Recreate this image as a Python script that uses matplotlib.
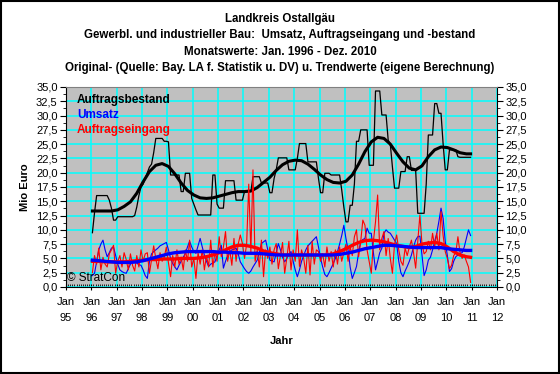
import numpy as np
import matplotlib
matplotlib.use('Agg')
import matplotlib.pyplot as plt
from matplotlib.ticker import MultipleLocator, FuncFormatter
from matplotlib.patches import Rectangle

plt.rcParams['font.family'] = ['Liberation Sans', 'DejaVu Sans']

# Monthly values Jan 1996 - Dec 2010 (Mio Euro)
auftragsbestand = [
    9.5, 13, 16, 16, 16, 16, 16, 16, 15.2, 13.8, 11.7, 11.7,
    12.3, 12.3, 12.3, 12.3, 12.3, 12.3, 12.3, 12.3, 12.5, 14, 16, 17.5,
    18, 19, 20, 21, 21.5, 23.5, 26, 26, 26, 26, 25.5, 25.5,
    25.4, 19.6, 19.6, 19.6, 19.6, 19.6, 16.7, 16.7, 19.9, 19.9, 19.9, 15.5,
    14.5, 13.5, 12.6, 12.6, 12.6, 12.6, 12.6, 12.6, 12.6, 19.6, 19.6, 14.5,
    13.8, 13.8, 13.8, 18.6, 18.6, 18.6, 18.6, 18.6, 15.2, 15.2, 15.2, 15.2,
    16.7, 16.7, 16.7, 16.7, 19.3, 19.3, 19.3, 19.3, 18.2, 18.2, 18.2, 18.2,
    16.5, 16.5, 19, 20.5, 22.6, 22.6, 22.6, 22.6, 22.6, 20.5, 20.5, 20.5,
    20.5, 22.5, 25.1, 25.1, 25.1, 25.1, 21.9, 21.9, 21.9, 21.9, 21.9, 19,
    16.5, 16.5, 19.9, 19.9, 19.9, 19.6, 19.6, 19.6, 19.6, 19.6, 17, 14,
    11.4, 11.4, 14.3, 14.3, 18, 25.5, 25.5, 27.5, 27.5, 27.5, 27.5, 21.3,
    21.3, 21.3, 34.3, 34.3, 34.3, 30.1, 30.1, 30.1, 25.7, 25, 21, 17.3,
    17.3, 17.3, 20.2, 20.2, 20.2, 22.8, 22.8, 20.4, 20.4, 20.4, 12.9, 12.9,
    12.9, 12.9, 18, 26.6, 26.6, 26.6, 32.1, 32.1, 30.4, 30.4, 25, 20.5,
    20.5, 24, 24, 24, 24, 22.8, 22.7, 22.7, 22.7, 22.7, 22.7, 22.7,
]
umsatz = [
    2.0, 2.4, 4.5, 6.5, 7.5, 8.2, 6.5, 5.3, 6.0, 6.8, 7.0, 5.5,
    4.0, 3.0, 2.7, 2.5, 2.4, 3.2, 4.0, 4.4, 4.6, 4.2, 3.9, 3.8,
    3.0, 2.0, 1.5, 4.5, 5.8, 6.2, 6.5, 6.8, 7.2, 7.4, 7.6, 7.8,
    6.5, 5.0, 4.1, 3.5, 3.0, 3.8, 4.5, 5.2, 5.9, 7.0, 8.0, 7.0,
    6.2, 5.9, 7.2, 8.5, 7.0, 5.6, 4.5, 3.6, 4.0, 4.2, 4.4, 5.5,
    6.5, 7.3, 3.3, 4.5, 5.5, 6.2, 6.5, 6.6, 6.8, 5.8, 4.4, 3.8,
    3.2, 2.7, 2.4, 2.8, 3.5, 4.1, 4.7, 6.0, 7.6, 7.9, 8.2, 6.5,
    4.7, 4.5, 4.4, 6.0, 7.6, 6.5, 5.2, 4.4, 5.0, 5.8, 6.2, 4.5,
    3.0, 1.8, 3.0, 4.5, 5.5, 6.5, 7.2, 7.6, 8.0, 8.4, 8.8, 7.0,
    5.0, 3.5, 2.2, 1.8, 2.5, 3.3, 4.1, 5.0, 6.2, 7.5, 9.0, 10.8,
    8.5, 6.5, 3.5, 1.5, 2.5, 3.6, 6.0, 8.0, 8.3, 8.5, 10.3, 9.4,
    9.4, 6.0, 3.0, 4.5, 6.0, 6.8, 9.4, 10.0, 9.6, 9.4, 8.8, 8.2,
    7.6, 4.5, 2.5, 1.8, 2.8, 3.6, 4.5, 5.6, 7.0, 8.2, 8.8, 8.9,
    5.6, 2.0, 3.0, 4.7, 5.2, 6.5, 8.0, 9.4, 11.5, 13.8, 12.0, 8.0,
    5.5, 2.7, 3.2, 4.5, 5.3, 5.6, 5.9, 6.0, 7.0, 8.5, 10.0, 9.0,
]
auftragseingang = [
    2.5, 5.5, 4.0, 6.8, 3.0, 5.2, 4.0, 3.5, 5.8, 6.5, 7.3, 2.4,
    4.5, 5.5, 3.5, 6.0, 4.8, 3.0, 5.8, 3.8, 2.8, 5.5, 3.5, 6.5,
    4.5, 5.8, 6.0, 2.4, 4.8, 7.2, 5.0, 3.2, 6.0, 4.5, 5.2, 7.0,
    4.2, 1.8, 5.5, 3.5, 6.5, 4.0, 5.2, 3.0, 6.5, 4.5, 8.2, 3.5,
    5.0, 1.5, 6.0, 4.0, 6.5, 3.0, 5.5, 3.5, 8.2, 3.5, 6.0, 4.5,
    8.8, 5.3, 7.0, 9.7, 4.5, 6.5, 3.8, 8.5, 4.5, 7.5, 9.1, 7.6,
    5.0, 7.5, 18.0, 6.0, 20.5, 4.5, 6.5, 3.5, 8.2, 1.8, 6.5, 5.0,
    7.0, 4.0, 6.5, 7.6, 3.2, 5.5, 7.8, 2.4, 5.0, 8.0, 3.0, 6.5,
    4.5, 10.0, 3.6, 6.5, 5.0, 2.4, 7.3, 2.1, 8.0, 4.0, 6.5, 6.2,
    4.5, 5.8, 3.5, 7.0, 4.5, 6.2, 3.5, 6.5, 4.0, 7.0, 4.5, 6.0,
    7.5, 4.5, 7.0, 5.5, 8.8, 10.0, 5.3, 8.0, 11.7, 10.8, 6.5, 4.5,
    2.4, 8.0, 11.4, 16.1, 6.5, 8.5, 9.7, 5.5, 8.5, 5.0, 2.4, 7.5,
    9.1, 6.5, 4.5, 3.8, 6.8, 5.5, 7.0, 8.2, 6.0, 3.3, 8.0, 12.6,
    7.5, 5.8, 6.2, 8.0, 6.5, 9.4, 7.0, 9.4, 6.5, 13.2, 9.0, 6.2,
    5.0, 3.2, 3.8, 5.5, 6.0, 8.8, 6.0, 5.0, 5.6, 4.5, 3.5, 0.8,
]

# Trend values (every third month, plus Dec 2010)
trend_months = list(range(0, 180, 3)) + [179]
trend_bestand = [
    13.3, 13.3, 13.3, 13.3, 13.5, 14.1, 14.9, 16.4, 18.4, 20.2, 21.3, 21.6,
    21.1, 19.8, 18.2, 16.9, 16.1, 15.6, 15.5, 15.6, 15.9, 16.2, 16.5, 16.7,
    16.7, 16.8, 17.4, 18.3, 19.2, 20.4, 21.4, 22.0, 22.2, 22.1, 21.5, 20.6,
    19.6, 18.8, 18.3, 18.2, 18.5, 19.6, 21.5, 23.7, 25.4, 26.2, 26.0, 25.0,
    23.4, 21.9, 20.8, 20.5, 21.2, 22.8, 24.0, 24.5, 24.4, 24.0, 23.5, 23.3, 23.3,
]
trend_umsatz = [
    4.7, 4.6, 4.5, 4.4, 4.3, 4.3, 4.3, 4.4, 4.6, 4.9, 5.2, 5.5,
    5.8, 6.0, 6.1, 6.2, 6.2, 6.2, 6.2, 6.2, 6.1, 6.1, 6.0, 6.0,
    5.9, 5.9, 5.9, 5.8, 5.7, 5.6, 5.6, 5.6, 5.6, 5.6, 5.6, 5.6,
    5.6, 5.6, 5.6, 5.7, 5.9, 6.1, 6.4, 6.7, 6.9, 7.1, 7.3, 7.3,
    7.2, 7.1, 7.0, 6.9, 6.9, 6.9, 6.9, 6.9, 6.7, 6.6, 6.5, 6.4, 6.4,
]
trend_eingang = [
    4.5, 4.5, 4.4, 4.4, 4.4, 4.4, 4.5, 4.6, 4.7, 4.8, 4.8, 4.9,
    4.9, 4.9, 5.0, 5.0, 5.0, 5.1, 5.3, 5.6, 6.0, 6.5, 7.0, 7.3,
    7.3, 7.1, 6.8, 6.3, 6.0, 5.8, 5.6, 5.6, 5.6, 5.6, 5.6, 5.6,
    5.6, 5.6, 5.8, 6.2, 6.7, 7.3, 7.8, 8.1, 8.2, 8.1, 7.9, 7.6,
    7.3, 7.1, 6.9, 7.1, 7.5, 7.7, 7.8, 7.6, 7.0, 6.2, 5.6, 5.3, 5.2,
]

years = list(range(1995, 2013))
year_labels = ['Jan\n%02d' % (y % 100) for y in years]

x = 1996 + (np.arange(len(umsatz)) + 0.5) / 12
xt = 1996 + (np.array(trend_months) + 0.5) / 12

fig = plt.figure(figsize=(5.6, 3.74), dpi=100)
ax = fig.add_axes([66 / 560, 1 - 287 / 374, 431 / 560, 200 / 374])
ax.set_facecolor('#c0c0c0')

ax.plot(x, auftragsbestand, color='black', lw=0.9, zorder=3)
ax.plot(xt, trend_bestand, color='black', lw=2.2, zorder=4)
ax.plot(x, umsatz, color='blue', lw=0.8, zorder=5)
ax.plot(x, auftragseingang, color='red', lw=0.8, zorder=6)
ax.plot(xt, trend_eingang, color='red', lw=2.4, zorder=7)
ax.plot(xt, trend_umsatz, color='blue', lw=2.4, zorder=8)

ax.set_xlim(1995, 2012)
ax.set_ylim(0, 35)
ax.set_xticks(years)
ax.set_xticklabels(year_labels, fontsize=8, linespacing=1.7)
ax.xaxis.set_minor_locator(MultipleLocator(1 / 12))
ax.yaxis.set_major_locator(MultipleLocator(2.5))
ax.yaxis.set_minor_locator(MultipleLocator(1.25))
ax.yaxis.set_major_formatter(FuncFormatter(lambda v, p: ('%.1f' % v).replace('.', ',')))
ax.grid(True, which='major', color='#00ffff', lw=1.1, zorder=1)
ax.set_axisbelow(True)

ax.tick_params(axis='y', which='both', left=True, right=True, labelleft=True, labelright=True,
               labelsize=8, direction='out', pad=2)
ax.tick_params(axis='y', which='major', length=4)
ax.tick_params(axis='y', which='minor', length=2)
ax.tick_params(axis='x', which='major', length=5, direction='inout', pad=5)
ax.tick_params(axis='x', which='minor', length=2, direction='in')
for s in ['left', 'right', 'bottom']:
    ax.spines[s].set_color('black')
ax.spines['top'].set_color('#808080')

ax.set_ylabel('Mio Euro', fontsize=8, fontweight='bold', labelpad=4)
ax.set_xlabel('Jahr', fontsize=8, fontweight='bold', labelpad=9)

ax.text(0.025, 0.965, 'Auftragsbestand', color='black', fontsize=8.5, fontweight='bold',
        transform=ax.transAxes, va='top')
ax.text(0.025, 0.89, 'Umsatz', color='blue', fontsize=8.5, fontweight='bold',
        transform=ax.transAxes, va='top')
ax.text(0.025, 0.815, 'Auftragseingang', color='red', fontsize=8.5, fontweight='bold',
        transform=ax.transAxes, va='top')
ax.text(0.003, 0.015, '© StratCon', color='black', fontsize=8.5,
        transform=ax.transAxes, va='bottom', zorder=10)

titles = ['Landkreis Ostallgäu',
          'Gewerbl. und industrieller Bau:  Umsatz, Auftragseingang und -bestand',
          'Monatswerte: Jan. 1996 - Dez. 2010',
          'Original- (Quelle: Bay. LA f. Statistik u. DV) u. Trendwerte (eigene Berechnung)']
for i, t in enumerate(titles):
    fig.text(0.5, 1 - (19 + 16.3 * i) / 374, t, ha='center', va='center',
             fontsize=8.3, fontweight='bold')

fig.patches.append(Rectangle((0.001, 0.002), 0.997, 0.996, transform=fig.transFigure,
                             fill=False, edgecolor='black', lw=1.5))

fig.savefig('out.png', dpi=100, facecolor='white')
